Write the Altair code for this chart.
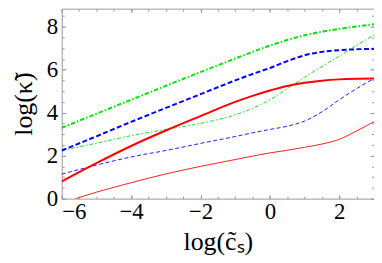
import altair as alt
import pandas as pd

# x grid (log c_s)
xs = [-6, -5, -4, -3, -2, -1, -0.5, 0, 0.5, 1, 1.5, 2, 2.5, 3]
thick_green = [3.30, 3.95, 4.60, 5.25, 5.89, 6.52, 6.83, 7.12, 7.38, 7.60, 7.77, 7.90, 8.01, 8.12]
thick_blue = [2.24, 2.90, 3.57, 4.22, 4.86, 5.50, 5.80, 6.08, 6.40, 6.67, 6.83, 6.91, 6.95, 6.97]
thick_red = [0.80, 1.65, 2.45, 3.17, 3.84, 4.50, 4.78, 5.03, 5.24, 5.39, 5.49, 5.55, 5.58, 5.59]
thin_green = [2.24, 2.58, 2.93, 3.22, 3.50, 3.90, 4.20, 4.60, 5.12, 5.65, 6.15, 6.63, 7.13, 7.62]
thin_blue = [1.14, 1.56, 1.94, 2.24, 2.57, 2.89, 3.06, 3.22, 3.37, 3.61, 4.04, 4.60, 5.12, 5.59]
thin_red_x = [-5.6, -5, -4, -3, -2, -1, -0.5, 0, 0.5, 1, 1.5, 2, 2.5, 3]
thin_red = [0.00, 0.30, 0.74, 1.15, 1.50, 1.82, 1.98, 2.13, 2.25, 2.39, 2.54, 2.76, 3.15, 3.58]

series_names = ["thin_red", "thin_blue", "thin_green", "thick_red", "thick_blue", "thick_green"]
series_colors = ["#ff2020", "#2020ff", "#20e020", "#ff0000", "#0000ff", "#00e600"]
series_widths = [1, 1, 1, 2, 2, 2]
series_dashes = [[1, 0], [4, 2.5], [4, 2, 1.5, 2], [1, 0], [5, 2.5], [4.5, 2, 1.5, 2]]

x_major = [-6, -4, -2, 0, 2]
x_minor = [v / 2 for v in range(-12, 7)]
y_major = [0, 2, 4, 6, 8]
y_minor = [v / 2 for v in range(0, 18)]

series_data = {
    "thin_red": (thin_red_x, thin_red),
    "thin_blue": (xs, thin_blue),
    "thin_green": (xs, thin_green),
    "thick_red": (xs, thick_red),
    "thick_blue": (xs, thick_blue),
    "thick_green": (xs, thick_green),
}

xscale = alt.Scale(domain=[-6, 3], nice=False, zero=False)
yscale = alt.Scale(domain=[0, 8.84], nice=False, zero=False)

font = "Liberation Serif"
tick_col = "#9a9a9a"


def ax(orient, values, size, labels=False, title=None, **extra):
    kw = dict(
        orient=orient,
        values=values,
        tickSize=size,
        offset=-size,
        domain=False,
        grid=False,
        tickColor=tick_col,
        tickWidth=1,
        labels=labels,
    )
    kw["title"] = title
    if labels:
        kw["format"] = "d"
    kw.update(extra)
    return alt.Axis(**kw)


def series_df(name):
    xv, yv = series_data[name]
    return pd.DataFrame({"x": xv, "y": yv, "i": list(range(len(xv)))})


layers = []
for k, name in enumerate(series_names):
    if k == 0:
        xa = ax("bottom", x_major, 4, labels=True, title="log(c̃ₛ)", labelPadding=2, titlePadding=5)
        ya = ax("left", y_major, 4, labels=True, title="log(κ̃)", labelPadding=4, titlePadding=10)
    elif k == 1:
        xa = ax("top", x_major, 4)
        ya = ax("right", y_major, 4)
    elif k == 2:
        xa = ax("bottom", x_minor, 2.5)
        ya = ax("left", y_minor, 2.5)
    elif k == 3:
        xa = ax("top", x_minor, 2.5)
        ya = ax("right", y_minor, 2.5)
    else:
        xa = None
        ya = None
    mark_kw = dict(
        interpolate="monotone",
        clip=True,
        color=series_colors[k],
        strokeWidth=series_widths[k],
    )
    if series_dashes[k] != [1, 0]:
        mark_kw["strokeDash"] = series_dashes[k]
    layer = alt.Chart(series_df(name)).mark_line(**mark_kw).encode(
        x=alt.X("x:Q", scale=xscale, axis=xa),
        y=alt.Y("y:Q", scale=yscale, axis=ya),
        order="i:Q",
    )
    layers.append(layer)

chart = (
    alt.layer(*layers)
    .resolve_axis(x="independent", y="independent")
    .properties(
        width=314,
        height=191,
        autosize=alt.AutoSizeParams(type="none"),
        padding={"left": 54, "top": 0, "right": 0, "bottom": 56},
    )
    .configure_view(stroke="#9a9a9a", strokeWidth=1)
    .configure_axis(
        labelFont=font,
        labelFontSize=23,
        labelColor="black",
        titleFont=font,
        titleFontSize=26,
        titleFontWeight="normal",
        titleColor="black",
    )
)

chart.save("out.html", embed_options={"renderer": "svg", "actions": False})
